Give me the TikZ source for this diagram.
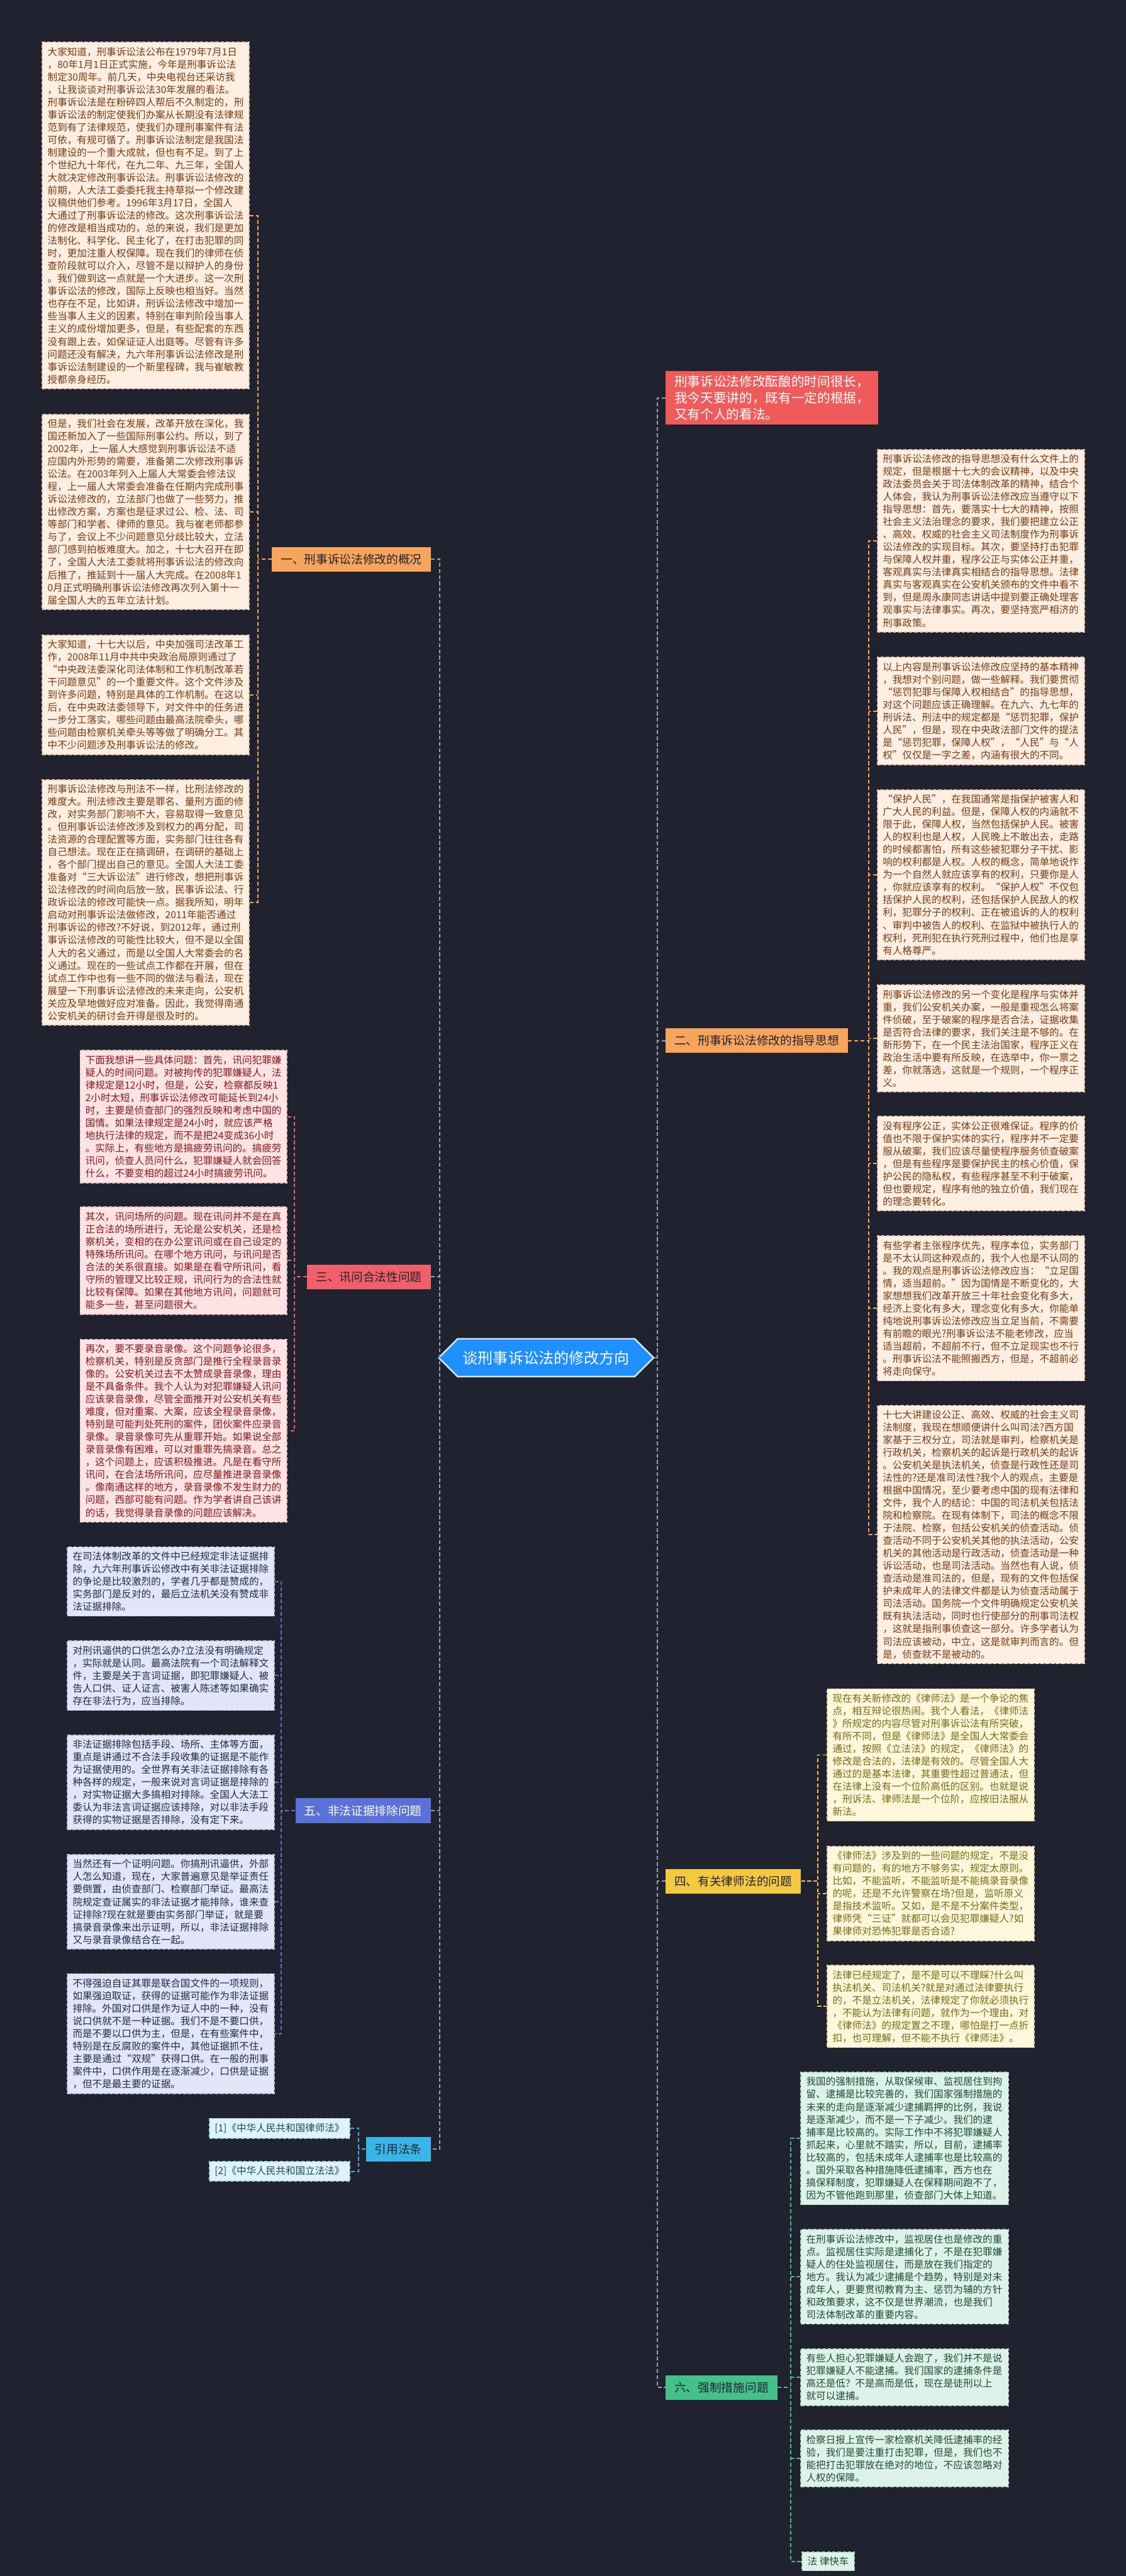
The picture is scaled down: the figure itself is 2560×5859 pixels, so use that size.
\documentclass[tikz,border=0pt]{standalone}
\usepackage{fontspec}
\newfontfamily\cjk{Noto Sans CJK SC}
\usetikzlibrary{shapes.symbols}
\definecolor{bg}{HTML}{20232F}
\definecolor{ofill}{HTML}{FFEEE2}\definecolor{oline}{HTML}{E2C4AE}\definecolor{otext}{HTML}{7A3A10}
\definecolor{rfill}{HTML}{FDE3E3}\definecolor{rline}{HTML}{E4B8B8}\definecolor{rtext}{HTML}{8A1818}
\definecolor{ufill}{HTML}{E2E6F7}\definecolor{uline}{HTML}{B8C0DE}\definecolor{utext}{HTML}{1E2A4A}
\definecolor{yfill}{HTML}{FEF7DC}\definecolor{yline}{HTML}{E0D4A8}\definecolor{ytext}{HTML}{7A6A10}
\definecolor{gfill}{HTML}{DDF3EA}\definecolor{gline}{HTML}{B0D8C6}\definecolor{gtext}{HTML}{1E4A36}
\definecolor{cfill}{HTML}{DDF3F8}\definecolor{cline}{HTML}{A8D8E4}\definecolor{ctext}{HTML}{1E4A5A}
\definecolor{lorange}{HTML}{F7A45C}\definecolor{lred}{HTML}{F0606A}\definecolor{lblue}{HTML}{5A72D8}
\definecolor{lyellow}{HTML}{F5C842}\definecolor{lgreen}{HTML}{44C08A}\definecolor{lcyan}{HTML}{38B6E8}
\definecolor{hred}{HTML}{EF5B5B}\definecolor{rootblue}{HTML}{1E90FF}\definecolor{spine}{HTML}{9AA0B0}
\begin{document}
\begin{tikzpicture}[x=0.01cm,y=-0.01cm,
  tb/.style={draw, dash pattern=on 2.2pt off 1.2pt, line width=0.7pt, anchor=north west, align=left,
    inner xsep=0.12cm, inner ysep=0.11cm, font=\cjk\fontsize{6.34}{8.15}\selectfont},
  ob/.style={tb, fill=ofill, draw=oline, text=otext, text width=4.47cm},
  lb/.style={tb, fill=ofill, draw=oline, text=otext, text width=4.46cm},
  rb/.style={tb, fill=rfill, draw=rline, text=rtext, text width=4.46cm},
  ub/.style={tb, fill=ufill, draw=uline, text=utext, text width=4.46cm},
  yb/.style={tb, fill=yfill, draw=yline, text=ytext, text width=4.46cm},
  gb/.style={tb, fill=gfill, draw=gline, text=gtext, text width=4.48cm},
  cb/.style={tb, fill=cfill, draw=cline, text=ctext},
  lab/.style={font=\cjk\fontsize{7.6}{9}\selectfont, inner xsep=0.2cm, inner ysep=0.1cm, minimum height=0.56cm},
  conn/.style={dash pattern=on 2.5pt off 1.5pt, line width=0.8pt},
]
\fill[bg] (0,0) rectangle (2560,5859);
\useasboundingbox (0,0) rectangle (2560,5859);

% ---------- root ----------
\node[signal, signal to=west and east, fill=rootblue, draw=white!80!rootblue, line width=1pt,
  minimum width=4.53cm, minimum height=0.86cm, text=white, font=\cjk\fontsize{9.8}{11}\selectfont]
  (root) at (1242,3088) {谈刑事诉讼法的修改方向};

% ---------- labels ----------
\node[lab, fill=lorange, text=bg, anchor=east] (L1) at (980,1272) {一、刑事诉讼法修改的概况};
\node[lab, fill=lred, text=bg, anchor=east] (L3) at (980,2904) {三、讯问合法性问题};
\node[lab, fill=lblue, text=white, anchor=east] (L5) at (980,4118) {五、非法证据排除问题};
\node[lab, fill=lcyan, text=bg, anchor=east] (L7) at (980,4888) {引用法条};
\node[lab, fill=hred, text=white, anchor=west, align=left, font=\cjk\fontsize{8.4}{10.6}\selectfont] (H) at (1513,905)
  {刑事诉讼法修改酝酿的时间很长，\\我今天要讲的，既有一定的根据，\\又有个人的看法。};
\node[lab, fill=lorange, text=bg, anchor=west] (L2) at (1513,2367) {二、刑事诉讼法修改的指导思想};
\node[lab, fill=lyellow, text=bg, anchor=west] (L4) at (1513,4279) {四、有关律师法的问题};
\node[lab, fill=lgreen, text=bg, anchor=west] (L6) at (1513,5430) {六、强制措施问题};

% ---------- group 1 ----------
\node[lb] (b1) at (95,95) {大家知道，刑事诉讼法公布在1979年7月1日\\，80年1月1日正式实施，今年是刑事诉讼法\\制定30周年。前几天，中央电视台还采访我\\，让我谈谈对刑事诉讼法30年发展的看法。\\刑事诉讼法是在粉碎四人帮后不久制定的，刑\\事诉讼法的制定使我们办案从长期没有法律规\\范到有了法律规范，使我们办理刑事案件有法\\可依，有规可循了。刑事诉讼法制定是我国法\\制建设的一个重大成就，但也有不足。到了上\\个世纪九十年代，在九二年、九三年，全国人\\大就决定修改刑事诉讼法。刑事诉讼法修改的\\前期，人大法工委委托我主持草拟一个修改建\\议稿供他们参考。1996年3月17日，全国人\\大通过了刑事诉讼法的修改。这次刑事诉讼法\\的修改是相当成功的，总的来说，我们是更加\\法制化、科学化、民主化了，在打击犯罪的同\\时，更加注重人权保障。现在我们的律师在侦\\查阶段就可以介入，尽管不是以辩护人的身份\\。我们做到这一点就是一个大进步。这一次刑\\事诉讼法的修改，国际上反映也相当好。当然\\也存在不足，比如讲，刑诉讼法修改中增加一\\些当事人主义的因素，特别在审判阶段当事人\\主义的成份增加更多，但是，有些配套的东西\\没有跟上去，如保证证人出庭等。尽管有许多\\问题还没有解决，九六年刑事诉讼法修改是刑\\事诉讼法制建设的一个新里程碑，我与崔敏教\\授都亲身经历。};
\node[lb] (b2) at (95,941) {但是，我们社会在发展，改革开放在深化，我\\国还新加入了一些国际刑事公约。所以，到了\\2002年，上一届人大感觉到刑事诉讼法不适\\应国内外形势的需要，准备第二次修改刑事诉\\讼法。在2003年列入上届人大常委会修法议\\程，上一届人大常委会准备在任期内完成刑事\\诉讼法修改的，立法部门也做了一些努力，推\\出修改方案，方案也是征求过公、检、法、司\\等部门和学者、律师的意见。我与崔老师都参\\与了，会议上不少问题意见分歧比较大，立法\\部门感到拍板难度大。加之，十七大召开在即\\了，全国人大法工委就将刑事诉讼法的修改向\\后推了，推延到十一届人大完成。在2008年1\\0月正式明确刑事诉讼法修改再次列入第十一\\届全国人大的五年立法计划。};
\node[lb] (b3) at (95,1443) {大家知道，十七大以后，中央加强司法改革工\\作，2008年11月中共中央政治局原则通过了\\“中央政法委深化司法体制和工作机制改革若\\干问题意见”的一个重要文件。这个文件涉及\\到许多问题，特别是具体的工作机制。在这以\\后，在中央政法委领导下，对文件中的任务进\\一步分工落实，哪些问题由最高法院牵头，哪\\些问题由检察机关牵头等等做了明确分工。其\\中不少问题涉及刑事诉讼法的修改。};
\node[lb] (b4) at (95,1772) {刑事诉讼法修改与刑法不一样，比刑法修改的\\难度大。刑法修改主要是罪名、量刑方面的修\\改，对实务部门影响不大，容易取得一致意见\\。但刑事诉讼法修改涉及到权力的再分配，司\\法资源的合理配置等方面，实务部门往往各有\\自己想法。现在正在搞调研，在调研的基础上\\，各个部门提出自己的意见。全国人大法工委\\准备对“三大诉讼法”进行修改，想把刑事诉\\讼法修改的时间向后放一放，民事诉讼法、行\\政诉讼法的修改可能快一点。据我所知，明年\\启动对刑事诉讼法做修改，2011年能否通过\\刑事诉讼的修改?不好说，到2012年，通过刑\\事诉讼法修改的可能性比较大，但不是以全国\\人大的名义通过，而是以全国人大常委会的名\\义通过。现在的一些试点工作都在开展，但在\\试点工作中也有一些不同的做法与看法，现在\\展望一下刑事诉讼法修改的未来走向，公安机\\关应及早地做好应对准备。因此，我觉得南通\\公安机关的研讨会开得是很及时的。};

% ---------- group 3 ----------
\node[rb] (r1) at (181,2388) {下面我想讲一些具体问题：首先，讯问犯罪嫌\\疑人的时间问题。对被拘传的犯罪嫌疑人，法\\律规定是12小时，但是，公安，检察都反映1\\2小时太短，刑事诉讼法修改可能延长到24小\\时，主要是侦查部门的强烈反映和考虑中国的\\国情。如果法律规定是24小时，就应该严格\\地执行法律的规定，而不是把24变成36小时\\。实际上，有些地方是搞疲劳讯问的。搞疲劳\\讯问，侦查人员问什么，犯罪嫌疑人就会回答\\什么，不要变相的超过24小时搞疲劳讯问。};
\node[rb] (r2) at (181,2744) {其次，讯问场所的问题。现在讯问并不是在真\\正合法的场所进行，无论是公安机关，还是检\\察机关，变相的在办公室讯问或在自己设定的\\特殊场所讯问。在哪个地方讯问，与讯问是否\\合法的关系很直接。如果是在看守所讯问，看\\守所的管理又比较正规，讯问行为的合法性就\\比较有保障。如果在其他地方讯问，问题就可\\能多一些，甚至问题很大。};
\node[rb] (r3) at (181,3045) {再次，要不要录音录像。这个问题争论很多，\\检察机关，特别是反贪部门是推行全程录音录\\像的。公安机关过去不太赞成录音录像，理由\\是不具备条件。我个人认为对犯罪嫌疑人讯问\\应该录音录像，尽管全面推开对公安机关有些\\难度，但对重案、大案，应该全程录音录像，\\特别是可能判处死刑的案件，团伙案件应录音\\录像。录音录像可先从重罪开始。如果说全部\\录音录像有困难，可以对重罪先搞录音。总之\\，这个问题上，应该积极推进。凡是在看守所\\讯问，在合法场所讯问，应尽量推进录音录像\\。像南通这样的地方，录音录像不发生财力的\\问题，西部可能有问题。作为学者讲自己该讲\\的话，我觉得录音录像的问题应该解决。};

% ---------- group 5 ----------
\node[ub] (u1) at (152,3517) {在司法体制改革的文件中已经规定非法证据排\\除，九六年刑事诉讼修改中有关非法证据排除\\的争论是比较激烈的，学者几乎都是赞成的，\\实务部门是反对的，最后立法机关没有赞成非\\法证据排除。};
\node[ub] (u2) at (152,3731) {对刑讯逼供的口供怎么办?立法没有明确规定\\，实际就是认同。最高法院有一个司法解释文\\件，主要是关于言词证据，即犯罪嫌疑人、被\\告人口供、证人证言、被害人陈述等如果确实\\存在非法行为，应当排除。};
\node[ub] (u3) at (152,3945) {非法证据排除包括手段、场所、主体等方面，\\重点是讲通过不合法手段收集的证据是不能作\\为证据使用的。全世界有关非法证据排除有各\\种各样的规定，一般来说对言词证据是排除的\\，对实物证据大多搞相对排除。全国人大法工\\委认为非法言词证据应该排除，对以非法手段\\获得的实物证据是否排除，没有定下来。};
\node[ub] (u4) at (152,4217) {当然还有一个证明问题。你搞刑讯逼供，外部\\人怎么知道，现在，大家普遍意见是举证责任\\要倒置，由侦查部门、检察部门举证。最高法\\院规定查证属实的非法证据才能排除，谁来查\\证排除?现在就是要由实务部门举证，就是要\\搞录音录像来出示证明，所以，非法证据排除\\又与录音录像结合在一起。};
\node[ub] (u5) at (152,4488) {不得强迫自证其罪是联合国文件的一项规则，\\如果强迫取证，获得的证据可能作为非法证据\\排除。外国对口供是作为证人中的一种，没有\\说口供就不是一种证据。我们不是不要口供，\\而是不要以口供为主，但是，在有些案件中，\\特别是在反腐败的案件中，其他证据抓不住，\\主要是通过“双规”获得口供。在一般的刑事\\案件中，口供作用是在逐渐减少，口供是证据\\，但不是最主要的证据。};

% ---------- citations ----------
\node[cb] (c1) at (475,4817) {[1]《中华人民共和国律师法》};
\node[cb] (c2) at (475,4915) {[2]《中华人民共和国立法法》};

% ---------- group 2 ----------
\node[ob] (o1) at (1994,1021) {刑事诉讼法修改的指导思想没有什么文件上的\\规定，但是根据十七大的会议精神，以及中央\\政法委员会关于司法体制改革的精神，结合个\\人体会，我认为刑事诉讼法修改应当遵守以下\\指导思想：首先，要落实十七大的精神，按照\\社会主义法治理念的要求，我们要把建立公正\\、高效、权威的社会主义司法制度作为刑事诉\\讼法修改的实现目标。其次，要坚持打击犯罪\\与保障人权并重，程序公正与实体公正并重，\\客观真实与法律真实相结合的指导思想。法律\\真实与客观真实在公安机关颁布的文件中看不\\到，但是周永康同志讲话中提到要正确处理客\\观事实与法律事实。再次，要坚持宽严相济的\\刑事政策。};
\node[ob] (o2) at (1994,1494) {以上内容是刑事诉讼法修改应坚持的基本精神\\，我想对个别问题，做一些解释。我们要贯彻\\“惩罚犯罪与保障人权相结合”的指导思想，\\对这个问题应该正确理解。在九六、九七年的\\刑诉法、刑法中的规定都是“惩罚犯罪，保护\\人民”，但是，现在中央政法部门文件的提法\\是“惩罚犯罪，保障人权”，“人民”与“人\\权”仅仅是一字之差，内涵有很大的不同。};
\node[ob] (o3) at (1994,1795) {“保护人民”，在我国通常是指保护被害人和\\广大人民的利益。但是，保障人权的内涵就不\\限于此，保障人权，当然包括保护人民。被害\\人的权利也是人权，人民晚上不敢出去，走路\\的时候都害怕，所有这些被犯罪分子干扰、影\\响的权利都是人权。人权的概念，简单地说作\\为一个自然人就应该享有的权利，只要你是人\\，你就应该享有的权利。“保护人权”不仅包\\括保护人民的权利，还包括保护人民敌人的权\\利，犯罪分子的权利、正在被追诉的人的权利\\、审判中被告人的权利、在监狱中被执行人的\\权利，死刑犯在执行死刑过程中，他们也是享\\有人格尊严。};
\node[ob] (o4) at (1994,2239) {刑事诉讼法修改的另一个变化是程序与实体并\\重，我们公安机关办案，一般是重视怎么将案\\件侦破，至于破案的程序是否合法，证据收集\\是否符合法律的要求，我们关注是不够的。在\\新形势下，在一个民主法治国家，程序正义在\\政治生活中要有所反映，在选举中，你一票之\\差，你就落选，这就是一个规则，一个程序正\\义。};
\node[ob] (o5) at (1994,2538) {没有程序公正，实体公正很难保证。程序的价\\值也不限于保护实体的实行，程序并不一定要\\服从破案，我们应该尽量使程序服务侦查破案\\，但是有些程序是要保护民主的核心价值，保\\护公民的隐私权，有些程序甚至不利于破案，\\但也要规定，程序有他的独立价值，我们现在\\的理念要转化。};
\node[ob] (o6) at (1994,2810) {有些学者主张程序优先，程序本位，实务部门\\是不太认同这种观点的，我个人也是不认同的\\。我的观点是刑事诉讼法修改应当：“立足国\\情，适当超前。”因为国情是不断变化的，大\\家想想我们改革开放三十年社会变化有多大，\\经济上变化有多大，理念变化有多大，你能单\\纯地说刑事诉讼法修改应当立足当前，不需要\\有前瞻的眼光?刑事诉讼法不能老修改，应当\\适当超前，不超前不行，但不立足现实也不行\\。刑事诉讼法不能照搬西方，但是，不超前必\\将走向保守。};
\node[ob] (o7) at (1994,3195) {十七大讲建设公正、高效、权威的社会主义司\\法制度，我现在想顺便讲什么叫司法?西方国\\家基于三权分立，司法就是审判，检察机关是\\行政机关，检察机关的起诉是行政机关的起诉\\。公安机关是执法机关，侦查是行政性还是司\\法性的?还是准司法性?我个人的观点，主要是\\根据中国情况，至少要考虑中国的现有法律和\\文件，我个人的结论：中国的司法机关包括法\\院和检察院。在现有体制下，司法的概念不限\\于法院、检察，包括公安机关的侦查活动。侦\\查活动不同于公安机关其他的执法活动，公安\\机关的其他活动是行政活动，侦查活动是一种\\诉讼活动，也是司法活动。当然也有人说，侦\\查活动是准司法的，但是，现有的文件包括保\\护未成年人的法律文件都是认为侦查活动属于\\司法活动。国务院一个文件明确规定公安机关\\既有执法活动，同时也行使部分的刑事司法权\\，这就是指刑事侦查这一部分。许多学者认为\\司法应该被动，中立，这是就审判而言的。但\\是，侦查就不是被动的。};

% ---------- group 4 ----------
\node[yb] (y1) at (1880,3840) {现在有关新修改的《律师法》是一个争论的焦\\点，相互辩论很热闹。我个人看法，《律师法\\》所规定的内容尽管对刑事诉讼法有所突破，\\有所不同，但是《律师法》是全国人大常委会\\通过，按照《立法法》的规定，《律师法》的\\修改是合法的，法律是有效的。尽管全国人大\\通过的是基本法律，其重要性超过普通法，但\\在法律上没有一个位阶高低的区别。也就是说\\，刑诉法、律师法是一个位阶，应按旧法服从\\新法。};
\node[yb] (y2) at (1880,4198) {《律师法》涉及到的一些问题的规定，不是没\\有问题的，有的地方不够务实，规定太原则。\\比如，不能监听，不能监听是不能搞录音录像\\的呢，还是不允许警察在场?但是，监听原义\\是指技术监听。又如，是不是不分案件类型，\\律师凭“三证”就都可以会见犯罪嫌疑人?如\\果律师对恐怖犯罪是否合适?};
\node[yb] (y3) at (1880,4469) {法律已经规定了，是不是可以不理睬?什么叫\\执法机关、司法机关?就是对通过法律要执行\\的，不是立法机关，法律规定了你就必须执行\\，不能认为法律有问题，就作为一个理由，对\\《律师法》的规定置之不理，哪怕是打一点折\\扣，也可理解，但不能不执行《律师法》。};

% ---------- group 6 ----------
\node[gb] (g1) at (1820,4712) {我国的强制措施，从取保候审、监视居住到拘\\留、逮捕是比较完善的，我们国家强制措施的\\未来的走向是逐渐减少逮捕羁押的比例，我说\\是逐渐减少，而不是一下子减少。我们的逮\\捕率是比较高的。实际工作中不将犯罪嫌疑人\\抓起来，心里就不踏实，所以，目前，逮捕率\\比较高的，包括未成年人逮捕率也是比较高的\\。国外采取各种措施降低逮捕率，西方也在\\搞保释制度，犯罪嫌疑人在保释期间跑不了，\\因为不管他跑到那里，侦查部门大体上知道。};
\node[gb] (g2) at (1820,5070) {在刑事诉讼法修改中，监视居住也是修改的重\\点。监视居住实际是逮捕化了，不是在犯罪嫌\\疑人的住处监视居住，而是放在我们指定的\\地方。我认为减少逮捕是个趋势，特别是对未\\成年人，更要贯彻教育为主、惩罚为辅的方针\\和政策要求，这不仅是世界潮流，也是我们\\司法体制改革的重要内容。};
\node[gb] (g3) at (1820,5341) {有些人担心犯罪嫌疑人会跑了，我们并不是说\\犯罪嫌疑人不能逮捕。我们国家的逮捕条件是\\高还是低？不是高而是低，现在是徒刑以上\\就可以逮捕。};
\node[gb] (g4) at (1820,5526) {检察日报上宣传一家检察机关降低逮捕率的经\\验，我们是要注重打击犯罪，但是，我们也不\\能把打击犯罪放在绝对的地位，不应该忽略对\\人权的保障。};
\node[cb, fill=gfill, draw=gline, text=gtext] (ft) at (1823,5803) {法 律快车};

% ---------- connectors ----------
\coordinate (kL) at (1000,0);
\coordinate (kR) at (1495,0);
\coordinate (k1) at (586,0);
\coordinate (k3) at (670,0);
\coordinate (k5) at (640,0);
\coordinate (k7) at (816,0);
\coordinate (k2) at (1975,0);
\coordinate (k4) at (1860,0);
\coordinate (k6) at (1798,0);

\draw[conn, spine] (L1.east) -- (L1.east -| kL) -- (L7.east -| kL) -- (L7.east);
\draw[conn, spine] (L3.east) -- (L3.east -| kL);
\draw[conn, spine] (L5.east) -- (L5.east -| kL);
\draw[conn, spine] (root.west) -- (root.west -| kL);
\draw[conn, spine] (H.west) -- (H.west -| kR) -- (L6.west -| kR) -- (L6.west);
\draw[conn, spine] (L2.west) -- (L2.west -| kR);
\draw[conn, spine] (L4.west) -- (L4.west -| kR);
\draw[conn, spine] (root.east) -- (root.east -| kR);

\draw[conn, lorange] (b1.east) -- (b1.east -| k1) -- (b4.east -| k1) -- (b4.east);
\draw[conn, lorange] (b2.east) -- (b2.east -| k1);
\draw[conn, lorange] (b3.east) -- (b3.east -| k1);
\draw[conn, lorange] (L1.west) -- (L1.west -| k1);

\draw[conn, lred] (r1.east) -- (r1.east -| k3) -- (r3.east -| k3) -- (r3.east);
\draw[conn, lred] (r2.east) -- (r2.east -| k3);
\draw[conn, lred] (L3.west) -- (L3.west -| k3);

\draw[conn, lblue] (u1.east) -- (u1.east -| k5) -- (u5.east -| k5) -- (u5.east);
\draw[conn, lblue] (u2.east) -- (u2.east -| k5);
\draw[conn, lblue] (u3.east) -- (u3.east -| k5);
\draw[conn, lblue] (u4.east) -- (u4.east -| k5);
\draw[conn, lblue] (L5.west) -- (L5.west -| k5);

\draw[conn, lcyan] (c1.east) -- (c1.east -| k7) -- (c2.east -| k7) -- (c2.east);
\draw[conn, lcyan] (L7.west) -- (L7.west -| k7);

\draw[conn, lorange] (o1.west) -- (o1.west -| k2) -- (o7.west -| k2) -- (o7.west);
\foreach \n in {o2,o3,o4,o5,o6} \draw[conn, lorange] (\n.west) -- (\n.west -| k2);
\draw[conn, lorange] (L2.east) -- (L2.east -| k2);

\draw[conn, lyellow] (y1.west) -- (y1.west -| k4) -- (y3.west -| k4) -- (y3.west);
\draw[conn, lyellow] (y2.west) -- (y2.west -| k4);
\draw[conn, lyellow] (L4.east) -- (L4.east -| k4);

\draw[conn, lgreen] (g1.west) -- (g1.west -| k6) -- (ft.west -| k6) -- (ft.west);
\foreach \n in {g2,g3,g4} \draw[conn, lgreen] (\n.west) -- (\n.west -| k6);
\draw[conn, lgreen] (L6.east) -- (L6.east -| k6);
\end{tikzpicture}
\end{document}
